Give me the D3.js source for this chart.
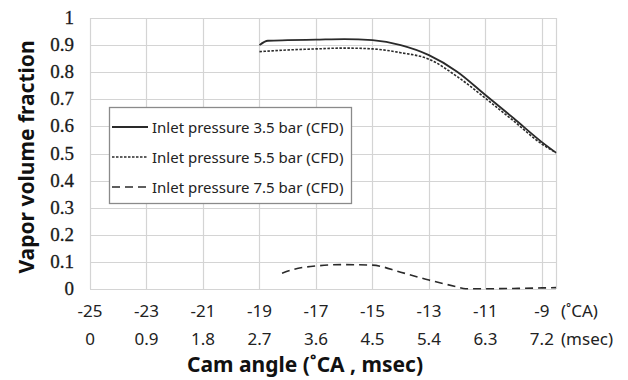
<!DOCTYPE html>
<html>
<head>
<meta charset="utf-8">
<script src="https://cdn.jsdelivr.net/npm/d3@7"></script>
<style>
  html, body { margin: 0; padding: 0; background: #fff; }
  svg { display: block; }
  .ytick { font-family: "Liberation Serif", serif; font-size: 19px; fill: #1a1a1a; stroke: #1a1a1a; stroke-width: 0.3px; }
  .xtick { font-family: "Noto Sans", sans-serif; font-size: 17px; fill: #222; }
  .title { font-family: "Noto Sans", sans-serif; font-size: 21px; font-weight: bold; fill: #111; }
  .legend-text { font-family: "Noto Sans", sans-serif; font-size: 15px; fill: #222; }
</style>
</head>
<body>
<div id="chart"></div>
<script>
// tick labels
const camTicks = [-25, -23, -21, -19, -17, -15, -13, -11, -9];
const msecLabels = ["0", "0.9", "1.8", "2.7", "3.6", "4.5", "5.4", "6.3", "7.2"];
const yTicks = [0, 0.1, 0.2, 0.3, 0.4, 0.5, 0.6, 0.7, 0.8, 0.9, 1];

// series (cam angle, vapor volume fraction)
const p35X = [-19, -18.7, -18, -17, -16, -15, -14, -13, -12, -11, -10, -9, -8.5];
const p35Y = [0.900, 0.916, 0.918, 0.920, 0.922, 0.918, 0.900, 0.863, 0.802, 0.716, 0.630, 0.542, 0.503];
const p55X = [-19, -18, -17, -16, -15, -14, -13, -12, -11, -10, -9, -8.5];
const p55Y = [0.876, 0.882, 0.886, 0.889, 0.886, 0.872, 0.848, 0.784, 0.704, 0.620, 0.535, 0.503];
const p75X = [-18.2, -17.8, -17, -16, -15, -14, -13, -12, -11.7, -11, -10, -9, -8.5];
const p75Y = [0.058, 0.072, 0.085, 0.090, 0.088, 0.062, 0.033, 0.008, 0.001, 0.001, 0.002, 0.004, 0.005];

const seriesNames = ["Inlet pressure 3.5 bar (CFD)", "Inlet pressure 5.5 bar (CFD)", "Inlet pressure 7.5 bar (CFD)"];

const series = [
  { name: seriesNames[0], xs: p35X, ys: p35Y, dash: null, width: 1.8 },
  { name: seriesNames[1], xs: p55X, ys: p55Y, dash: "2.5,1.5", width: 1.6 },
  { name: seriesNames[2], xs: p75X, ys: p75Y, dash: "8,5", width: 1.6 }
];

const W = 628, H = 380;
const plot = { left: 90, right: 556, top: 18, bottom: 289 };

const svg = d3.select('#chart').append('svg')
  .attr('width', W)
  .attr('height', H);

const x = d3.scaleLinear().domain([-25, -8.5]).range([plot.left, plot.right]);
const y = d3.scaleLinear().domain([0, 1]).range([plot.bottom, plot.top]);

// gridlines
const grid = svg.append('g').attr('stroke', '#d4d4d4').attr('stroke-width', 1.2);
grid.selectAll('.hg').data(yTicks).enter().append('line')
  .attr('x1', plot.left).attr('x2', plot.right)
  .attr('y1', d => Math.round(y(d)) + 0.5).attr('y2', d => Math.round(y(d)) + 0.5);
grid.selectAll('.vg').data(camTicks.concat([-8.5])).enter().append('line')
  .attr('y1', plot.top).attr('y2', plot.bottom)
  .attr('x1', d => Math.round(x(d)) + 0.5).attr('x2', d => Math.round(x(d)) + 0.5);

// y tick labels
svg.selectAll('.ytick').data(yTicks).enter().append('text')
  .attr('class', 'ytick')
  .attr('x', 74)
  .attr('y', d => y(d) + 6)
  .attr('text-anchor', 'end')
  .text(d => d3.format('')(+d.toFixed(1)));

// x tick labels (two rows)
svg.selectAll('.xcam').data(camTicks).enter().append('text')
  .attr('class', 'xtick')
  .attr('x', d => x(d))
  .attr('y', 317)
  .attr('text-anchor', 'middle')
  .text(d => d);
svg.selectAll('.xms').data(camTicks).enter().append('text')
  .attr('class', 'xtick')
  .attr('x', d => x(d))
  .attr('y', 345)
  .attr('text-anchor', 'middle')
  .text((d, i) => msecLabels[i]);
svg.append('text').attr('class', 'xtick').attr('x', 561).attr('y', 317).text('(˚CA)');
svg.append('text').attr('class', 'xtick').attr('x', 561).attr('y', 345).text('(msec)');

// axis titles
svg.append('text').attr('class', 'title')
  .attr('x', 305).attr('y', 372)
  .attr('text-anchor', 'middle')
  .text('Cam angle (˚CA , msec)');
svg.append('text').attr('class', 'title')
  .attr('transform', 'translate(34,157) rotate(-90)')
  .attr('text-anchor', 'middle')
  .text('Vapor volume fraction');

// curves
const line = d3.line()
  .x(d => x(d[0]))
  .y(d => y(d[1]))
  .curve(d3.curveMonotoneX);

svg.selectAll('.series').data(series).enter().append('path')
  .attr('d', s => line(s.xs.map((v, i) => [v, s.ys[i]])))
  .attr('fill', 'none')
  .attr('stroke', '#2a2a2a')
  .attr('stroke-width', s => s.width)
  .attr('stroke-dasharray', s => s.dash);

// legend
const lg = svg.append('g');
lg.append('rect')
  .attr('x', 109.5).attr('y', 107.5)
  .attr('width', 242).attr('height', 96)
  .attr('fill', '#fff')
  .attr('stroke', '#8a8a8a')
  .attr('stroke-width', 1.3);
const items = lg.selectAll('.item').data(series).enter().append('g')
  .attr('transform', (d, i) => `translate(0, ${127 + i * 30})`);
items.append('line')
  .attr('x1', 112).attr('x2', 148)
  .attr('stroke', '#2a2a2a')
  .attr('stroke-width', s => s.width)
  .attr('stroke-dasharray', s => s.dash);
items.append('text')
  .attr('class', 'legend-text')
  .attr('x', 152).attr('y', 5.5)
  .text(s => s.name);
</script>
</body>
</html>
